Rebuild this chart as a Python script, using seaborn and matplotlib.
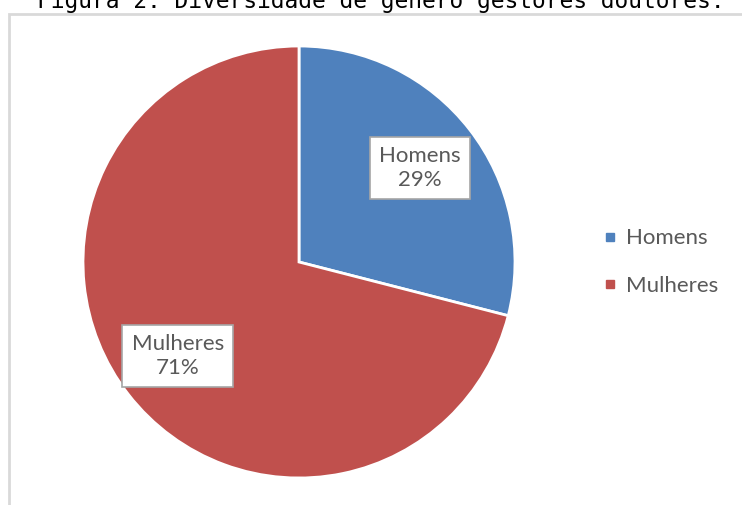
import matplotlib
matplotlib.use("Agg")
import matplotlib.pyplot as plt
import seaborn as sns
from matplotlib.lines import Line2D
from matplotlib.patches import Rectangle

categories = ["Homens", "Mulheres"]
values = [29, 71]
colors = ["#4F81BD", "#C0504D"]
title = "Figura 2. Diversidade de gênero gestores doutores."

sns.set_theme(style="white")
plt.rcParams["font.family"] = ["Lato", "DejaVu Sans"]

W, H = 742, 505
fig = plt.figure(figsize=(W / 100, H / 100), dpi=100)
fig.patch.set_facecolor("white")

# frame of chart area
fig.patches.append(Rectangle((9 / W, -0.05), 1.2, 1 - 13.5 / H + 0.05, transform=fig.transFigure,
                             fill=False, edgecolor="#D9D9D9", linewidth=2))

# title (clipped at the top, as in the reference)
fig.text(381 / W, 1 - 8 / H, title, ha="center", va="baseline",
         family="DejaVu Sans Mono", fontsize=16.5, color="black")

cx, cy, r = 299, 262, 216
ax = fig.add_axes([(cx - r) / W, 1 - (cy + r) / H, 2 * r / W, 2 * r / H])

def fmt(p, it=iter(categories)):
    return f"{next(it)}\n{p:.0f}%"

wedges, texts, autotexts = ax.pie(values, colors=colors, startangle=90, counterclock=False,
                                  autopct=fmt, pctdistance=0.71,
                                  wedgeprops=dict(edgecolor="white", linewidth=2),
                                  textprops=dict(fontsize=16, color="#595959"))
for t in autotexts:
    t.set_linespacing(1.25)
    t.set_bbox(dict(boxstyle="square,pad=0.42", facecolor="white", edgecolor="#A6A6A6", linewidth=1.2))
ax.set_xlim(-1, 1)
ax.set_ylim(-1, 1)
ax.set_aspect("equal")
ax.axis("off")

handles = [Line2D([], [], marker="s", linestyle="none", markersize=6, color=c) for c in colors]
fig.legend(handles, categories, loc="center left", bbox_to_anchor=(579 / W, 1 - 262 / H),
           frameon=False, fontsize=16, labelcolor="#595959", labelspacing=1.22,
           handletextpad=0.2, handlelength=1.0)

fig.savefig("out.png", dpi=100)
